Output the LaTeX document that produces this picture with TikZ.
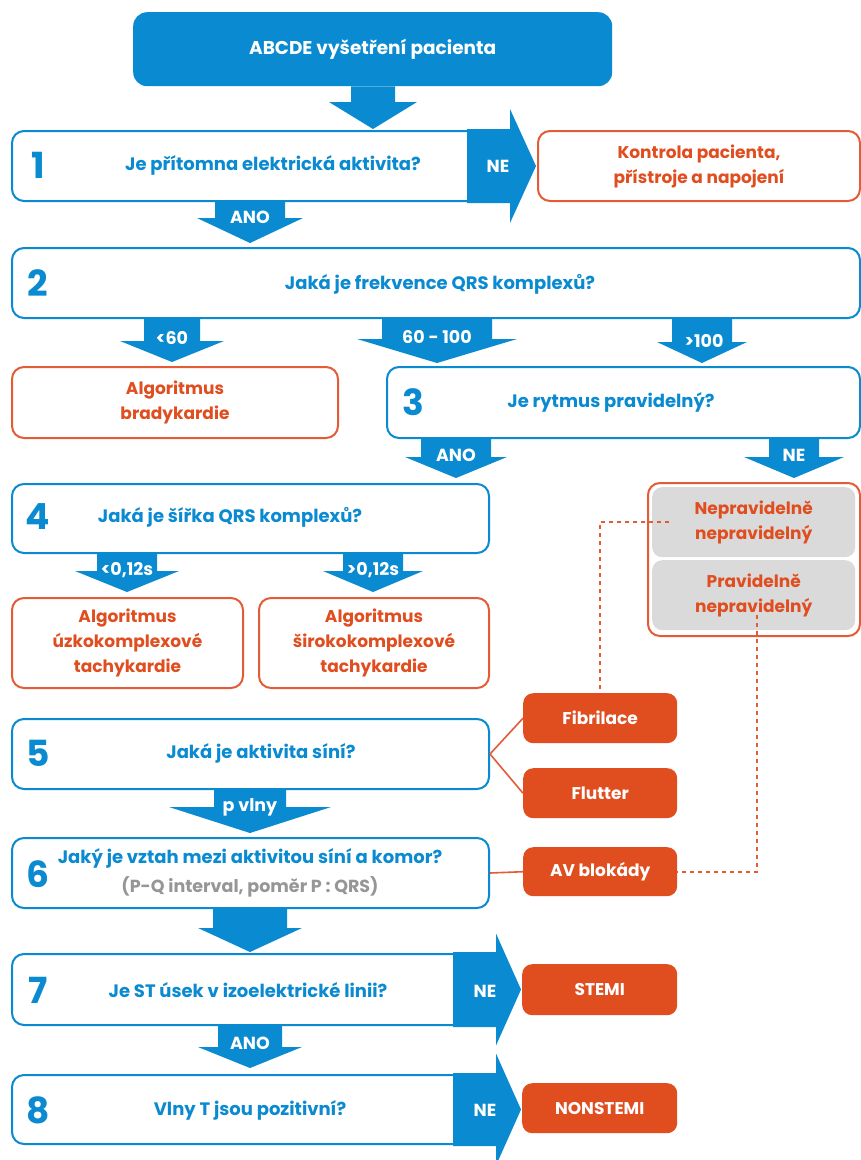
\documentclass[tikz,border=0pt]{standalone}
\usepackage{fontspec}
\setmainfont{Poppins}
\usetikzlibrary{calc}
\definecolor{cblue}{RGB}{10,138,208}
\definecolor{corange}{RGB}{224,78,32}
\definecolor{cborder}{RGB}{228,92,54}
\definecolor{cgrey}{RGB}{218,218,218}
\definecolor{cgtext}{RGB}{150,150,150}
% block arrow: #1 source, #2 target, #3 centre x, #4 shaft half width, #5 head half width, #6 head length, #7 gap
\newcommand\barrow[7]{%
  \path[fill=cblue] let \p1=(#1), \p2=(#2) in
    ({#3pt-#4pt},\y1) -- ({#3pt+#4pt},\y1) -- ({#3pt+#4pt},{\y2+#7pt+#6pt}) --
    ({#3pt+#5pt},{\y2+#7pt+#6pt}) -- ({#3pt},{\y2+#7pt}) -- ({#3pt-#5pt},{\y2+#7pt+#6pt}) --
    ({#3pt-#4pt},{\y2+#7pt+#6pt}) -- cycle;}
% NE arrow on the right of a question box: #1 node, #2 left x of blue part, #3 half height, #4 tip length
\newcommand\nearr[4]{%
  \path[fill=cblue] let \p1=(#1.north east), \p2=(#1.south east), \p3=(#1.east) in
    ({#2pt},{\y1+1pt}) -- ({\x1+1pt},{\y1+1pt}) -- ({\x1+1pt},{\y3+#3pt}) --
    ({\x1+1pt+#4pt},\y3) -- ({\x1+1pt},{\y3-#3pt}) -- ({\x1+1pt},{\y2-1pt}) --
    ({#2pt},{\y2-1pt}) -- cycle;}
% box from corner to corner
\newcommand\boxat[7]{%
  \node[#2, anchor=north west, minimum width={#5-#3}, minimum height={#6-#4}] (#1) at (#3,#4) {#7};}
\begin{document}
\begin{tikzpicture}[x=1pt,y=-1pt,
  qbox/.style={draw=cblue, line width=2pt, rounded corners=12pt, fill=white, inner sep=0pt},
  obox/.style={draw=cborder, line width=2pt, rounded corners=12pt, fill=white, inner sep=0pt,
    text=corange, align=center, font=\bfseries\fontsize{17}{25}\selectfont},
  ofill/.style={fill=corange, rounded corners=10pt, inner sep=0pt, text=white,
    font=\bfseries\fontsize{17}{25}\selectfont},
  gbox/.style={fill=cgrey, rounded corners=10pt, inner sep=0pt, text=corange, align=center,
    font=\bfseries\fontsize{17}{25}\selectfont},
  qtext/.style={text=cblue, font=\bfseries\fontsize{18}{22}\selectfont, inner sep=0pt},
  subtext/.style={text=cgtext, font=\bfseries\fontsize{17.5}{20}\selectfont, inner sep=0pt},
  num/.style={text=cblue, font=\bfseries\fontsize{36}{36}\selectfont, inner sep=0pt},
  alab/.style={text=white, font=\bfseries\fontsize{17.5}{17.5}\selectfont, inner sep=0pt},
  topbox/.style={fill=cblue, rounded corners=14pt, inner sep=0pt, text=white,
    font=\bfseries\fontsize{18.5}{18.5}\selectfont},
  olink/.style={draw=cborder, line width=1.6pt},
  dotlink/.style={draw=cborder, line width=2pt, dash pattern=on 4pt off 4pt}
]
\useasboundingbox (0,0) rectangle (861,1160);
\fill[white] (0,0) rectangle (861,1160);

% ---------- boxes ----------
\boxat{top}{topbox}{133}{12}{612}{86}{ABCDE vyšetření pacienta}
\boxat{b1}{qbox}{11}{130}{507}{200}{}
\boxat{bK}{obox}{537}{130}{859}{200}{Kontrola pacienta,\\přístroje a napojení}
\boxat{b2}{qbox}{11}{247}{859}{317}{}
\boxat{brady}{obox}{11}{366}{337}{437}{Algoritmus\\bradykardie}
\boxat{b3}{qbox}{386}{366}{859}{437}{}
\boxat{b4}{qbox}{11}{483}{488}{552}{}
\boxat{grp}{obox}{647}{482}{859}{635}{}
\boxat{nn}{gbox}{652}{487}{855}{557}{Nepravidelně\\nepravidelný}
\boxat{pn}{gbox}{652}{560}{855}{630}{Pravidelně\\nepravidelný}
\boxat{uz}{obox}{11}{597}{242}{687}{Algoritmus\\úzkokomplexové\\tachykardie}
\boxat{si}{obox}{258}{597}{488}{687}{Algoritmus\\širokokomplexové\\tachykardie}
\boxat{b5}{qbox}{11}{718}{488}{788}{}
\boxat{fib}{ofill}{523}{693}{677}{743}{Fibrilace}
\boxat{flu}{ofill}{523}{768}{677}{818}{Flutter}
\boxat{b6}{qbox}{11}{837}{488}{907}{}
\boxat{av}{ofill}{523}{847}{677}{896}{AV blokády}
\boxat{b7}{qbox}{11}{953}{493}{1024}{}
\boxat{stemi}{ofill}{522}{964}{677}{1015}{STEMI}
\boxat{b8}{qbox}{11}{1074}{493}{1143}{}
\boxat{nstemi}{ofill}{522}{1083}{677}{1133}{NONSTEMI}

% ---------- NE arrows ----------
\nearr{b1}{467}{57}{26}
\nearr{b7}{453}{56}{25}
\nearr{b8}{453}{56}{25}
\node[alab] (ne1) at (498,166) {NE};
\node[alab] (ne7) at (485,991) {NE};
\node[alab] (ne8) at (485,1110) {NE};

% ---------- texts in question boxes ----------
\node[num] (n1) at (38,165) {1};
\node[qtext] (t1) at (273,165) {Je přítomna elektrická aktivita?};
\node[num] (n2) at (38,283) {2};
\node[qtext] (t2) at (440,284) {Jaká je frekvence QRS komplexů?};
\node[num] (n3) at (413,402) {3};
\node[qtext] (t3) at (611,402) {Je rytmus pravidelný?};
\node[num] (n4) at (38,517) {4};
\node[qtext] (t4) at (230,517) {Jaká je šířka QRS komplexů?};
\node[num] (n5) at (38,753) {5};
\node[qtext] (t5) at (261,753) {Jaká je aktivita síní?};
\node[num] (n6) at (38,874) {6};
\node[qtext] (t6) at (250,858) {Jaký je vztah mezi aktivitou síní a komor?};
\node[subtext] (t6b) at (250,887) {(P-Q interval, poměr P : QRS)};
\node[num] (n7) at (38,990) {7};
\node[qtext] (t7) at (248,990) {Je ST úsek v izoelektrické linii?};
\node[num] (n8) at (38,1110) {8};
\node[qtext] (t8) at (250,1110) {Vlny T jsou pozitivní?};

% ---------- block arrows ----------
\barrow{top.south}{b1.north}{373}{22}{44}{27}{1}
\barrow{b1.south}{b2.north}{250}{35}{53}{25}{4}
\node[alab] (l1) at (250,217) {ANO};
\barrow{b2.south}{brady.north}{172}{28}{52}{21}{4}
\node[alab] (l2a) at (172,338) {<60};
\barrow{b2.south}{b3.north}{437}{55}{80}{24}{3}
\node[alab] (l2b) at (437,337) {60 - 100};
\barrow{b2.south}{b3.north}{702}{30}{45}{21}{3}
\node[alab] (l2c) at (704,341) {>100};
\barrow{b3.south}{b4.north}{456}{35}{51}{21}{5}
\node[alab] (l3a) at (456,455) {ANO};
\barrow{b3.south}{grp.north}{794}{25}{50}{21}{4}
\node[alab] (l3b) at (794,455) {NE};
\barrow{b4.south}{uz.north}{127}{30}{52}{21}{5}
\node[alab] (l4a) at (127,570) {<0,12s};
\barrow{b4.south}{si.north}{373}{30}{50}{21}{5}
\node[alab] (l4b) at (373,570) {>0,12s};
\barrow{b5.south}{b6.north}{250}{36}{81}{26}{4}
\node[alab] (l5) at (250,807) {p vlny};
\barrow{b6.south}{b7.north}{250}{37}{52}{24}{1}
\barrow{b7.south}{b8.north}{250}{32}{52}{21}{6}
\node[alab] (l7) at (250,1043) {ANO};

% ---------- thin links ----------
\draw[olink] (b5.east) -- (fib.west);
\draw[olink] (b5.east) -- (flu.west);
\draw[olink] (b6.east) -- (av.west);
\coordinate (d1) at (669,522);
\coordinate (d2) at (757,615);
\draw[dotlink] (d1) -- (d1 -| fib.north) -- (fib.north);
\draw[dotlink] (d2) -- (d2 |- av.east) -- (av.east);
\end{tikzpicture}
\end{document}
